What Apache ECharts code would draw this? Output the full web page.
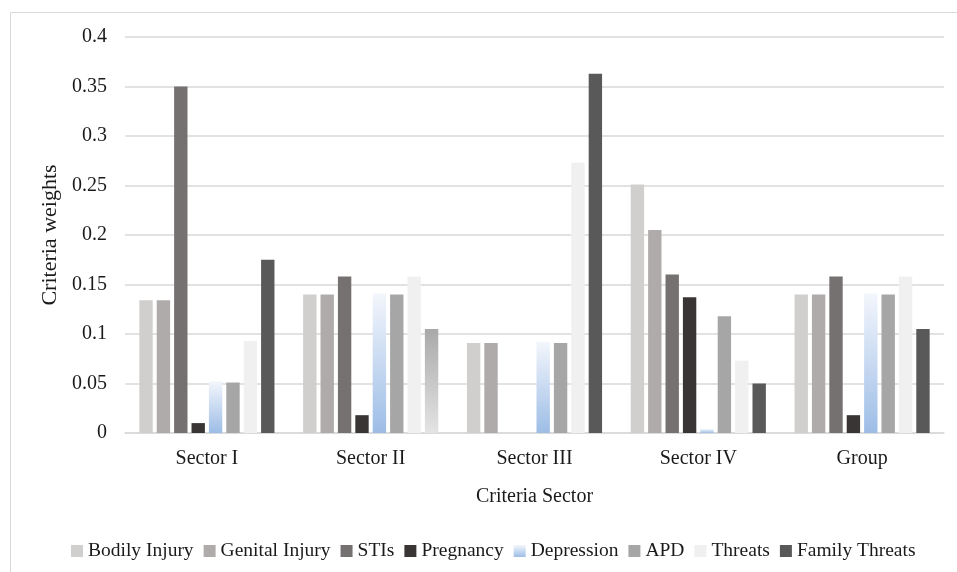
<!DOCTYPE html>
<html>
<head>
<meta charset="utf-8">
<script src="https://cdn.jsdelivr.net/npm/echarts@6/dist/echarts.min.js"></script>
<style>
html,body{margin:0;padding:0;background:#fff;}
#main{width:957px;height:572px;}
</style>
</head>
<body>
<div id="main"></div>
<script>
var sectors = ['Sector I', 'Sector II', 'Sector III', 'Sector IV', 'Group'];
var criteria = ['Bodily Injury', 'Genital Injury', 'STIs', 'Pregnancy', 'Depression', 'APD', 'Threats', 'Family Threats'];
// values per criterion, one per sector
var bodilyInjury = [0.134, 0.140, 0.091, 0.251, 0.140];
var genitalInjury = [0.134, 0.140, 0.091, 0.205, 0.140];
var stis = [0.350, 0.158, 0, 0.160, 0.158];
var pregnancy = [0.010, 0.018, 0, 0.137, 0.018];
var depression = [0.052, 0.141, 0.092, 0.004, 0.141];
var apd = [0.051, 0.140, 0.091, 0.118, 0.140];
var threats = [0.093, 0.158, 0.273, 0.073, 0.158];
var familyThreats = [0.175, 0.105, 0.363, 0.050, 0.105];
var yTicks = [0, 0.05, 0.1, 0.15, 0.2, 0.25, 0.3, 0.35, 0.4];

var serif = 'Liberation Serif';
var ink = '#1a1a1a';
function vGrad(top, bottom) {
    return new echarts.graphic.LinearGradient(0, 0, 0, 1, [
        {offset: 0, color: top},
        {offset: 1, color: bottom}
    ]);
}
var colors = ['#d0cfce', '#afabab', '#767171', '#3a3535', vGrad('#f3f6fc', '#9dbde6'), '#a6a6a6', '#f0f0f0', '#595959'];
var allData = [bodilyInjury, genitalInjury, stis, pregnancy, depression, apd, threats, familyThreats];

var series = allData.map(function (vals, i) {
    var data = vals.map(function (v, j) {
        // Sector II family threats bar is drawn with a grey fade in the source
        if (i === 7 && j === 1) {
            return {value: v, itemStyle: {color: vGrad('#a9a9a9', '#e4e4e4')}};
        }
        return v;
    });
    return {
        name: criteria[i],
        type: 'bar',
        barGap: '30%',
        barCategoryGap: '17.5%',
        itemStyle: {color: colors[i]},
        emphasis: {disabled: true},
        data: data
    };
});

var option = {
    animation: false,
    color: colors,
    textStyle: {fontFamily: serif, color: ink},
    graphic: [{
        type: 'rect',
        shape: {x: 10.5, y: 12.5, width: 960, height: 580},
        style: {fill: 'none', stroke: '#d9d9d9', lineWidth: 1},
        silent: true
    }],
    grid: {left: 125, right: 13, top: 37, bottom: 139},
    legend: {
        data: criteria,
        left: 66,
        top: 536,
        icon: 'rect',
        itemWidth: 12,
        itemHeight: 12,
        itemGap: 10,
        textStyle: {fontFamily: serif, fontSize: 19.5, color: ink}
    },
    xAxis: {
        type: 'category',
        data: sectors,
        name: 'Criteria Sector',
        nameLocation: 'middle',
        nameGap: 54,
        nameTextStyle: {fontFamily: serif, fontSize: 20, color: ink},
        axisLine: {lineStyle: {color: '#d9d9d9', width: 1.5}},
        axisTick: {show: false},
        axisLabel: {fontFamily: serif, fontSize: 20, color: ink, margin: 16}
    },
    yAxis: {
        type: 'value',
        min: yTicks[0],
        max: yTicks[yTicks.length - 1],
        interval: 0.05,
        name: 'Criteria weights',
        nameLocation: 'middle',
        nameGap: 64,
        nameTextStyle: {fontFamily: serif, fontSize: 22, color: ink},
        axisLine: {show: false},
        axisTick: {show: false},
        splitLine: {lineStyle: {color: '#d9d9d9', width: 1.5}},
        axisLabel: {
            fontFamily: serif, fontSize: 20, color: ink, margin: 18,
            formatter: function (v) { return String(Math.round(v * 100) / 100); }
        }
    },
    series: series
};

var chart = echarts.init(document.getElementById('main'));
chart.setOption(option);
</script>
</body>
</html>
